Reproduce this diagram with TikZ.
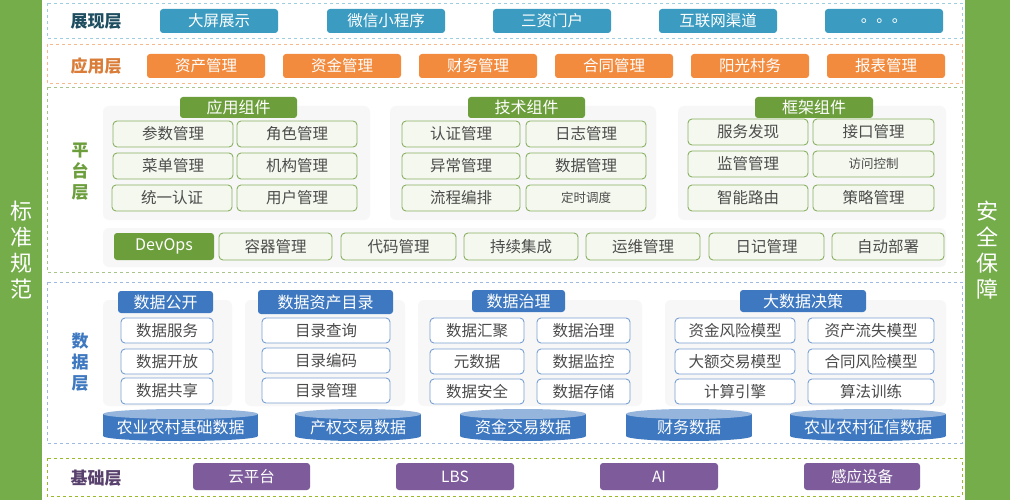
\documentclass[tikz,border=0pt]{standalone}
\usepackage{fontspec}
\setmainfont{Noto Sans CJK SC}
\begin{document}
\begin{tikzpicture}[x=1pt,y=-1pt,
  every node/.style={inner sep=0pt,font=\fontsize{15.5}{17}\selectfont},
  btn/.style={rounded corners=3,text=white},
  show/.style={btn,fill=showc},
  app/.style={btn,fill=appc},
  ghead/.style={btn,fill=gcol,font=\fontsize{16}{17}\selectfont},
  gcell/.style={rounded corners=4,draw=gcol!80,fill=gfill,line width=0.9pt,text=black!70},
  dhead/.style={btn,fill=dcol,font=\fontsize{16}{17}\selectfont},
  dcell/.style={rounded corners=4,draw=dcol!70,fill=white,line width=0.9pt,text=black!70},
  base/.style={btn,fill=basec},
  frame/.style={dashed,line width=0.8pt},
  lbl/.style={font=\fontsize{17}{21}\selectfont\bfseries},
  panel/.style={fill=black!3,draw=none,rounded corners=6},
  cyl/.style={text=white,font=\fontsize{16}{17}\selectfont}]
\definecolor{showc}{HTML}{3B9BC0}
\definecolor{appc}{HTML}{F28B3E}
\definecolor{gcol}{HTML}{6C9E3C}
\definecolor{gfill}{HTML}{F4F8EE}
\definecolor{dcol}{HTML}{3E78C0}
\definecolor{basec}{HTML}{7E5C9C}
\definecolor{barc}{HTML}{74AD4A}
\newcommand\bx[7]{\node[#1,minimum width={#4-#3},minimum height={#6-#5}] (#2) at ({(#3+#4)/2},{(#5+#6)/2}) {#7};}
\newcommand\cy[5]{%
  \fill[dcol] (#2,414) rectangle (#3,436);
  \fill[dcol] ({(#2+#3)/2},436) ellipse ({(#3-#2)/2} and 5);
  \fill[dcol!55] ({(#2+#3)/2},414) ellipse ({(#3-#2)/2} and 5);
  \node[cyl] (#1) at ({(#2+#3)/2},427) {#4};}
\useasboundingbox (0,0) rectangle (1010,500);
\fill[white] (0,0) rectangle (1010,500);
% side bars
\fill[barc] (0,0) rectangle (42,500);
\fill[barc] (965,0) rectangle (1010,500);
\node[text=white,align=center,font=\fontsize{22}{26}\selectfont] (std) at (21,250) {标\\准\\规\\范};
\node[text=white,align=center,font=\fontsize{22}{26}\selectfont] (sec) at (987,250) {安\\全\\保\\障};
% frames
\draw[frame,draw=showc!50] (47,3) rectangle (962,38);
\draw[frame,draw=appc!60] (47,44) rectangle (962,83);
\draw[frame,draw=gcol!60] (47,87) rectangle (962,272);
\draw[frame,draw=dcol!50] (47,282) rectangle (962,443);
\draw[frame,draw=gcol!70!yellow] (47,458) rectangle (962,496);
% 展现层
\node[lbl,text=showc!50!black] (l1) at (96,21) {展现层};
\bx{show}{s1}{160}{278}{9}{33}{大屏展示}
\bx{show}{s2}{327}{445}{9}{33}{微信小程序}
\bx{show}{s3}{493}{611}{9}{33}{三资门户}
\bx{show}{s4}{659}{777}{9}{33}{互联网渠道}
\bx{show}{s5}{825}{943}{9}{33}{。。。}
% 应用层
\node[lbl,text=appc!90!black] (l2) at (96,66) {应用层};
\bx{app}{a1}{147}{265}{54}{78}{资产管理}
\bx{app}{a2}{283}{401}{54}{78}{资金管理}
\bx{app}{a3}{419}{537}{54}{78}{财务管理}
\bx{app}{a4}{555}{673}{54}{78}{合同管理}
\bx{app}{a5}{691}{809}{54}{78}{阳光村务}
\bx{app}{a6}{827}{945}{54}{78}{报表管理}
% 平台层
\node[lbl,text=gcol,align=center] (l3) at (80,172) {平\\台\\层};
\fill[panel] (103,106) rectangle (370,220);
\fill[panel] (390,106) rectangle (656,220);
\fill[panel] (678,106) rectangle (946,220);
\fill[panel] (103,228) rectangle (946,267);
\bx{ghead}{g1}{180}{297}{97}{118}{应用组件}
\bx{ghead}{g2}{468}{585}{97}{118}{技术组件}
\bx{ghead}{g3}{755}{873}{97}{118}{框架组件}
\bx{gcell}{c11}{113}{233}{121}{147}{参数管理}
\bx{gcell}{c12}{237}{357}{121}{147}{角色管理}
\bx{gcell}{c13}{113}{233}{153}{179}{菜单管理}
\bx{gcell}{c14}{237}{357}{153}{179}{机构管理}
\bx{gcell}{c15}{112}{232}{185}{211}{统一认证}
\bx{gcell}{c16}{237}{357}{185}{211}{用户管理}
\bx{gcell}{c21}{402}{520}{121}{147}{认证管理}
\bx{gcell}{c22}{526}{646}{121}{147}{日志管理}
\bx{gcell}{c23}{402}{520}{153}{179}{异常管理}
\bx{gcell}{c24}{526}{646}{153}{179}{数据管理}
\bx{gcell}{c25}{402}{520}{185}{211}{流程编排}
\bx{gcell,font=\fontsize{12.5}{14}\selectfont}{c26}{526}{646}{185}{211}{定时调度}
\bx{gcell}{c31}{688}{808}{119}{145}{服务发现}
\bx{gcell}{c32}{813}{934}{119}{145}{接口管理}
\bx{gcell}{c33}{688}{808}{151}{177}{监管管理}
\bx{gcell,font=\fontsize{12.5}{14}\selectfont}{c34}{813}{934}{151}{177}{访问控制}
\bx{gcell}{c35}{688}{808}{185}{211}{智能路由}
\bx{gcell}{c36}{813}{934}{185}{211}{策略管理}
\bx{ghead}{d0}{114}{214}{233}{260}{DevOps}
\bx{gcell}{d1}{219}{332}{233}{260}{容器管理}
\bx{gcell}{d2}{341}{456}{233}{260}{代码管理}
\bx{gcell}{d3}{464}{578}{233}{260}{持续集成}
\bx{gcell}{d4}{586}{700}{233}{260}{运维管理}
\bx{gcell}{d5}{709}{824}{233}{260}{日记管理}
\bx{gcell}{d6}{832}{944}{233}{260}{自动部署}
% 数据层
\node[lbl,text=dcol,align=center] (l4) at (80,362) {数\\据\\层};
\fill[panel] (103,300) rectangle (232,406);
\fill[panel] (245,300) rectangle (405,406);
\fill[panel] (418,300) rectangle (642,406);
\fill[panel] (665,300) rectangle (946,406);
\bx{dhead}{h1}{118}{213}{291}{313}{数据公开}
\bx{dhead}{h2}{258}{393}{290}{314}{数据资产目录}
\bx{dhead}{h3}{472}{565}{290}{312}{数据治理}
\bx{dhead}{h4}{740}{866}{290}{312}{大数据决策}
\bx{dcell}{e11}{121}{213}{318}{343}{数据服务}
\bx{dcell}{e12}{121}{213}{349}{374}{数据开放}
\bx{dcell}{e13}{121}{213}{378}{404}{数据共享}
\bx{dcell}{e21}{262}{390}{318}{343}{目录查询}
\bx{dcell}{e22}{262}{390}{348}{373}{目录编码}
\bx{dcell}{e23}{262}{390}{378}{403}{目录管理}
\bx{dcell}{e31}{430}{524}{318}{343}{数据汇聚}
\bx{dcell}{e32}{537}{630}{318}{343}{数据治理}
\bx{dcell}{e33}{430}{524}{349}{374}{元数据}
\bx{dcell}{e34}{537}{630}{349}{374}{数据监控}
\bx{dcell}{e35}{430}{524}{379}{404}{数据安全}
\bx{dcell}{e36}{537}{630}{379}{404}{数据存储}
\bx{dcell}{e41}{675}{795}{318}{343}{资金风险模型}
\bx{dcell}{e42}{808}{934}{318}{343}{资产流失模型}
\bx{dcell}{e43}{675}{795}{349}{374}{大额交易模型}
\bx{dcell}{e44}{808}{934}{349}{374}{合同风险模型}
\bx{dcell}{e45}{675}{795}{379}{404}{计算引擎}
\bx{dcell}{e46}{808}{934}{379}{404}{算法训练}
\cy{y1}{103}{258}{农业农村基础数据}{}
\cy{y2}{295}{421}{产权交易数据}{}
\cy{y3}{460}{586}{资金交易数据}{}
\cy{y4}{626}{752}{财务数据}{}
\cy{y5}{790}{946}{农业农村征信数据}{}
% 基础层
\node[lbl,text=basec!70!black] (l5) at (96,478) {基础层};
\bx{base}{b1}{193}{310}{463}{490}{云平台}
\bx{base}{b2}{396}{514}{463}{490}{LBS}
\bx{base}{b3}{600}{718}{463}{490}{AI}
\bx{base}{b4}{804}{920}{463}{490}{感应设备}
\end{tikzpicture}
\end{document}
